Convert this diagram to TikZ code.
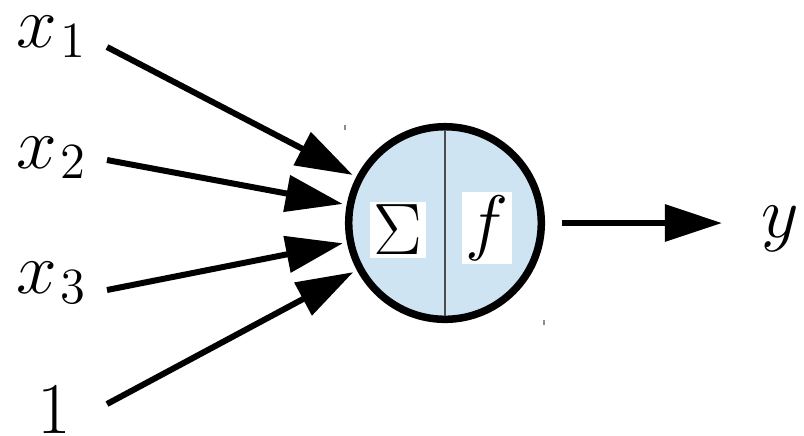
\documentclass[tikz,border=0pt]{standalone}
\usepackage{amsmath}
\usetikzlibrary{arrows.meta}
\tikzset{>={Triangle[length=0.57cm,width=0.36cm]}}
\definecolor{cellblue}{RGB}{207,228,242}
\newcommand{\inp}[1]{x_{\mkern1.5mu #1}}

\begin{document}
\begin{tikzpicture}[x=0.01cm,y=-0.01cm,line width=0.06cm,
    every node/.style={font=\fontsize{21.5}{26}\selectfont},
    lbl/.style={inner sep=0pt,anchor=base},
    tag/.style={fill=white,inner sep=1pt}]
    \useasboundingbox (0,0) rectangle (804,435);
    % the unit: sum and activation
    \node[circle,draw,line width=0.075cm,fill=cellblue,minimum size=1.925cm,inner sep=0pt] (neuron) at (445,223) {};
    \draw[line width=0.3pt,black!70,shorten <=0.075cm,shorten >=0.075cm] (neuron.north) -- (neuron.south);
    \node[tag] (sum) at (398,230) {$\Sigma$};
    \node[tag] (act) at (487,228) {$f$};
    \draw[line width=0.3pt,black!45] (345,125) -- (345,130) (544,320) -- (544,325);
    % inputs
    \node[lbl,anchor=base west] (x1) at (13,47) {$\inp{1}$};
    \node[lbl,anchor=base west] (x2) at (13,168) {$\inp{2}$};
    \node[lbl,anchor=base west] (x3) at (13,293) {$\inp{3}$};
    \node[lbl] (bias) at (54,433) {$1$};
    \coordinate (in1) at (107,47);
    \coordinate (in2) at (107,160);
    \coordinate (in3) at (107,290);
    \coordinate (in4) at (107,404);
    \foreach \c in {in1,in2,in3,in4}
        \draw[->,shorten >=0.04cm] (\c) -- (neuron);
    % output
    \node[lbl] (y) at (780,237) {$y$};
    \coordinate (out) at (722,223);
    \draw[->,shorten <=0.17cm] (neuron) -- (out);
\end{tikzpicture}
\end{document}
